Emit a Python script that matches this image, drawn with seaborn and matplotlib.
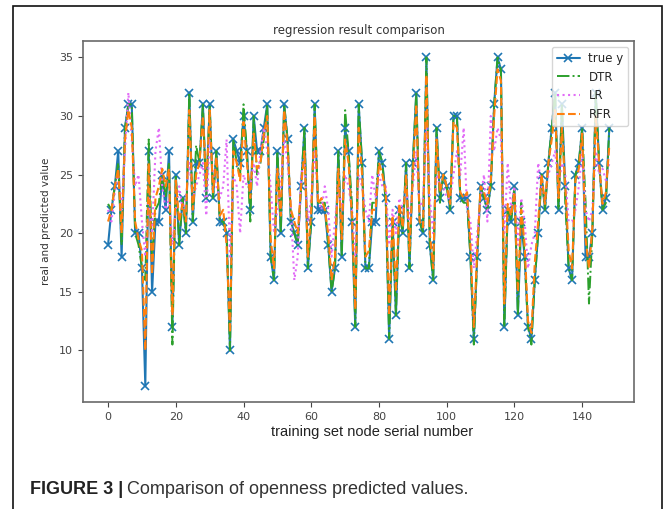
import matplotlib
matplotlib.use("Agg")
import matplotlib.pyplot as plt
from matplotlib.patches import Rectangle
import numpy as np
import pandas as pd
import seaborn as sns

# true target values of the training-set nodes
true_y = [19, 22, 24, 27, 18, 29, 31, 31, 20, 20, 17, 7, 27, 15, 21, 21, 25, 22, 27, 12,
          25, 19, 23, 20, 32, 21, 26, 26, 31, 23, 31, 23, 27, 21, 21, 20, 10, 28, 27, 26,
          30, 27, 22, 30, 27, 27, 29, 31, 18, 16, 27, 20, 31, 28, 21, 20, 19, 24, 29, 17,
          21, 31, 22, 22, 22, 19, 15, 17, 27, 18, 29, 27, 21, 12, 31, 26, 17, 17, 21, 21,
          27, 26, 23, 11, 21, 13, 22, 20, 26, 17, 26, 32, 21, 20, 35, 19, 16, 29, 23, 25,
          24, 22, 30, 30, 23, 23, 23, 18, 11, 18, 24, 23, 22, 24, 31, 35, 34, 12, 22, 21,
          24, 13, 21, 18, 12, 11, 16, 20, 25, 22, 26, 29, 32, 22, 31, 24, 17, 16, 25, 26,
          29, 18, 18, 20, 32, 26, 22, 23, 29]

# decision tree regression predictions
dtr = [22.5, 22, 24, 26, 19, 29, 31, 31, 20, 19, 17, 16, 28, 18, 22, 22.6, 25, 23, 26, 10.5,
       25, 19, 23, 20, 32, 21, 27.5, 26, 31, 23, 31, 23, 27, 21, 21, 20, 10, 28, 26, 25,
       31, 27, 21, 30, 25, 26, 28, 31, 18, 16, 27, 20, 31, 28, 21, 20, 19, 24, 29, 17,
       21, 31, 22.6, 22.6, 22.6, 19, 15, 17, 27, 18, 30.5, 27, 22.6, 12, 31, 26, 17, 17, 22.6, 22.6,
       27, 26, 22.6, 11, 21, 13, 22, 20, 26, 17, 26, 32, 21, 20, 35, 19, 16, 29, 22.6, 25,
       24, 22, 30, 30, 23, 22.6, 22.6, 18, 10.5, 18, 24, 23, 22, 24, 31, 35, 34, 12, 22, 21,
       24, 13, 22.6, 18, 12, 10.5, 16, 20, 25, 22, 26, 29, 32, 22, 31, 22.6, 17, 16, 25, 26,
       29, 22.6, 14, 20, 32, 26, 22, 22.6, 29]

# linear regression predictions
lr = [22, 21, 23.5, 25, 22, 27, 32, 28, 24, 25, 21, 18, 23, 20, 27, 29, 24, 22, 23, 19,
      22, 24, 22, 23, 26, 23, 24, 25, 26, 21.5, 28, 25, 24, 23, 24, 28, 18, 25, 24, 20,
      25, 24, 24, 26, 24, 27, 29, 27, 24, 20, 22, 24, 28, 26, 22, 16, 18, 25, 26, 21,
      23, 27, 23, 22, 24, 22, 18, 21, 24, 22, 25, 24, 22, 18, 25, 24, 22, 21, 25, 23,
      25, 24, 24, 19, 22, 20, 23, 22, 24, 21, 24, 27, 22, 23, 29, 23, 20, 25, 24, 24,
      23, 23, 25, 27, 25, 29, 22, 21, 17, 20, 23, 25, 21, 30, 27, 29, 28, 20, 26, 22,
      24, 19, 23, 21, 17, 19, 20, 26, 24, 23, 25, 26, 27, 24, 26, 25, 21, 21, 22, 24,
      27, 22, 21, 22, 27, 25, 25.5, 24.5, 26]

# random forest regression predictions
rfr = [21, 22, 24, 25.5, 20, 28, 30.5, 29, 21, 19.5, 18.5, 10, 26, 16.5, 23, 24, 25.5, 24, 25.5, 13,
       24.5, 21, 22.5, 21, 30.5, 22, 25, 26, 30, 24, 30.5, 23.5, 26.5, 21.5, 22, 19, 11.5, 27, 26, 24.5,
       29.5, 26, 23, 28.5, 25.5, 26, 28.5, 30, 19.5, 17, 25.5, 21.5, 30.5, 27.5, 22, 21, 20, 24, 27, 18,
       22, 30, 22.5, 23, 22, 20, 16, 18, 25.5, 19.5, 28, 26, 21.5, 13.5, 29, 25, 18, 18.5, 22, 22,
       26, 25, 23.5, 13, 21.5, 15, 22.5, 20.5, 25, 18.5, 25, 31, 21, 20.5, 33.5, 20, 17, 28, 23.5, 25,
       24, 22.5, 29.5, 29, 23.5, 23, 23.5, 19, 12, 18.5, 24, 23.5, 22.5, 24.5, 30, 34, 33, 14, 22.5, 21.5,
       23.5, 15, 22, 19, 12.5, 11.5, 17.5, 21, 25, 22.5, 26, 28, 30.5, 23, 29, 24, 18.5, 17, 24.5, 25.5,
       28.5, 19.5, 17, 20.5, 30, 26, 22.5, 23.5, 27.5]

x_ticks = [0, 20, 40, 60, 80, 100, 120, 140]
y_ticks = [10, 15, 20, 25, 30, 35]

df = pd.DataFrame({
    "node": np.arange(len(true_y)),
    "true y": true_y,
    "DTR": dtr,
    "LR": lr,
    "RFR": rfr,
})

sns.set_style("ticks")
plt.rcParams["font.family"] = ["DejaVu Sans"]

fig = plt.figure(figsize=(6.72, 5.09), dpi=100)
ax = fig.add_axes([0.1235, 0.2102, 0.8205, 0.7092])

blue = "#1f77b4"
sns.lineplot(data=df, x="node", y="true y", ax=ax, color=blue, linewidth=1.5,
             marker="x", markersize=6, markeredgewidth=1.2, markeredgecolor=blue,
             label="true y")
sns.lineplot(data=df, x="node", y="DTR", ax=ax, color="#2ca02c", linestyle="-.",
             linewidth=1.4, label="DTR")
sns.lineplot(data=df, x="node", y="LR", ax=ax, color="#e26cf7", linestyle=":",
             linewidth=1.5, label="LR")
sns.lineplot(data=df, x="node", y="RFR", ax=ax, color="#ff7f0e", linestyle="--",
             linewidth=1.5, label="RFR")

ax.margins(x=0.05, y=0.05)
ax.set_xticks(x_ticks)
ax.set_yticks(y_ticks)
ax.tick_params(labelsize=8, colors="#444444", length=3.5, width=0.8)
for sp in ax.spines.values():
    sp.set_visible(True)
    sp.set_color("#6a6a6a")
    sp.set_linewidth(1.2)

ax.set_title("regression result comparison", fontsize=8.5, color="#333333", pad=5)
ax.set_ylabel("real and predicted value", fontsize=7.5, color="#333333", labelpad=6)
ax.set_xlabel("training set node serial number", fontsize=10.5, color="#222222",
              family=["Liberation Sans Narrow", "Liberation Sans", "DejaVu Sans"])
ax.xaxis.set_label_coords(0.524, -0.065)

leg = ax.legend(loc="upper right", fontsize=8.5, frameon=True, handlelength=2.0,
                borderpad=0.4, labelspacing=0.5, handletextpad=0.7)
leg.get_frame().set_edgecolor("#cccccc")

# frame around the figure panel
fig.patches.append(Rectangle((13 / 672, -0.02), (662 - 13) / 672, 1.0 - 6 / 509 + 0.02,
                             transform=fig.transFigure, fill=False,
                             edgecolor="#111111", linewidth=1.2))

# caption
cap_font = ["Liberation Sans", "DejaVu Sans"]
t1 = fig.text(30 / 672, 1 - 494 / 509, "FIGURE 3 |", fontsize=13, fontweight="bold",
              family=cap_font, color="#222222", va="baseline")
fig.canvas.draw()
bb = t1.get_window_extent(renderer=fig.canvas.get_renderer())
fig.text(bb.x1 / fig.bbox.width + 4 / 672, 1 - 494 / 509,
         "Comparison of openness predicted values.", fontsize=13,
         family=cap_font, color="#333333", va="baseline")

fig.savefig("out.png", dpi=100)
